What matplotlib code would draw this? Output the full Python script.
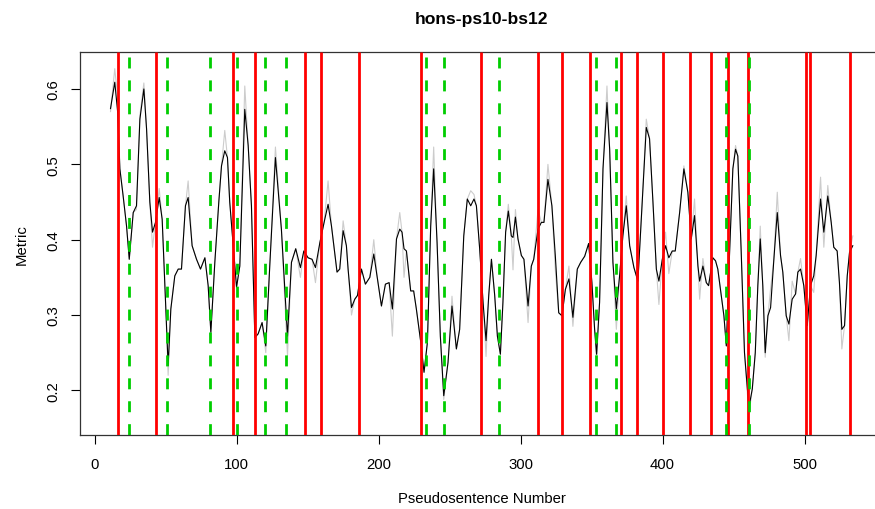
import matplotlib
matplotlib.use("Agg")
import matplotlib.pyplot as plt

# ---------------- data ----------------
title = "hons-ps10-bs12"
x_label = "Pseudosentence Number"
y_label = "Metric"

pseudo_x = [11, 14, 16, 17.6, 19.9, 22.3, 24.2, 27, 29.3, 31.7, 34.5, 36.4, 38.7, 40.6, 42.7, 45.3, 47.4,
            49.8, 51.6, 53.5, 56.3, 58.7, 61, 63.8, 65.7, 68.5, 71.6, 74.4, 77.5, 79.8, 81.7, 84.5, 87.3,
            89.2, 91.5, 93.4, 95, 99.8, 102.1, 105.6, 108, 110.3, 112.7, 115, 117.8, 120.4, 123.2, 127.2,
            131.4, 135.7, 138.5, 141.5, 144.8, 147.2, 150.2, 153, 155.4, 158.5, 161.5, 164.3, 166.7, 170.6,
            172.5, 174.9, 177.2, 178.4, 180.8, 183.1, 185, 187.8, 190.6, 193.7, 196.5, 198.8, 201.9, 204.7,
            207.3, 209.6, 212.5, 214.8, 216.4, 217.8, 219.5, 222.5, 224.6, 226.5, 229.6, 231.9, 234.3, 236.6,
            238.7, 241.1, 243.4, 245.8, 248.8, 251.6, 254.7, 257, 259.9, 262.4, 264.8, 267.1, 268.8, 271.1,
            273.5, 275.6, 277.5, 279.4, 281.7, 283.6, 285.7, 287.5, 289.4, 291.3, 293.4, 294.6, 296.3, 298.1,
            300.5, 302.3, 305.2, 307.5, 309.2, 312.2, 314.6, 316.4, 319.2, 322, 324.4, 326.8, 329.1, 331.5,
            334, 336.8, 339.9, 342.3, 345.1, 347.9, 350.2, 352.1, 353.5, 355.6, 358, 360.8, 362.7, 365,
            367.4, 369.7, 372, 374.4, 376.8, 379.8, 382.6, 385.4, 388.5, 390.8, 393.2, 395.6, 397.4, 399.8,
            402.1, 404.4, 406.8, 408.9, 412, 415, 417.8, 420.2, 422.5, 424.9, 426.1, 428.4, 430.8, 432.4,
            435.4, 437.3, 438.9, 441.3, 443.2, 444.9, 447.2, 449.5, 451.4, 453, 455.4, 457.7, 460.8, 463.2,
            465.3, 467.1, 468.8, 470.6, 472.3, 474.2, 476.1, 478.4, 480.8, 483.1, 484.7, 487.1, 489, 491.3,
            493.7, 495.3, 497.2, 499.5, 501.9, 504.2, 506.5, 508.2, 511.3, 513.6, 516.4, 518.8, 520.6, 523,
            524.6, 526.3, 528.2, 530.1, 531.7, 534]

metric_smooth = [0.574, 0.609, 0.570, 0.494, 0.458, 0.418, 0.374, 0.436, 0.445, 0.560, 0.600, 0.547, 0.450,
                 0.410, 0.423, 0.456, 0.427, 0.317, 0.233, 0.308, 0.352, 0.361, 0.361, 0.445, 0.456, 0.392,
                 0.374, 0.361, 0.376, 0.339, 0.277, 0.370, 0.450, 0.498, 0.518, 0.509, 0.450, 0.337, 0.365,
                 0.573, 0.525, 0.445, 0.270, 0.275, 0.290, 0.259, 0.365, 0.509, 0.414, 0.272, 0.370, 0.388,
                 0.363, 0.385, 0.376, 0.374, 0.363, 0.396, 0.423, 0.447, 0.418, 0.357, 0.361, 0.412, 0.392,
                 0.361, 0.310, 0.321, 0.326, 0.361, 0.341, 0.350, 0.381, 0.352, 0.312, 0.341, 0.343, 0.308,
                 0.401, 0.414, 0.410, 0.388, 0.385, 0.332, 0.332, 0.308, 0.264, 0.224, 0.264, 0.418, 0.494,
                 0.396, 0.272, 0.193, 0.237, 0.312, 0.255, 0.281, 0.405, 0.454, 0.445, 0.454, 0.445, 0.388,
                 0.317, 0.266, 0.326, 0.374, 0.326, 0.272, 0.248, 0.317, 0.410, 0.438, 0.405, 0.403, 0.430,
                 0.401, 0.379, 0.374, 0.312, 0.365, 0.374, 0.414, 0.423, 0.423, 0.480, 0.445, 0.379, 0.303,
                 0.299, 0.334, 0.348, 0.297, 0.361, 0.370, 0.378, 0.395, 0.343, 0.281, 0.248, 0.317, 0.494,
                 0.582, 0.520, 0.370, 0.308, 0.352, 0.405, 0.445, 0.392, 0.363, 0.345, 0.441, 0.549, 0.534,
                 0.450, 0.361, 0.345, 0.374, 0.392, 0.376, 0.385, 0.385, 0.436, 0.494, 0.463, 0.401, 0.432,
                 0.365, 0.345, 0.365, 0.343, 0.339, 0.376, 0.372, 0.361, 0.326, 0.299, 0.259, 0.383, 0.494,
                 0.520, 0.511, 0.383, 0.250, 0.177, 0.202, 0.250, 0.339, 0.401, 0.339, 0.250, 0.299, 0.310,
                 0.374, 0.436, 0.379, 0.357, 0.299, 0.288, 0.321, 0.328, 0.357, 0.361, 0.339, 0.286, 0.339,
                 0.352, 0.379, 0.454, 0.410, 0.458, 0.423, 0.390, 0.385, 0.343, 0.281, 0.286, 0.352, 0.383,
                 0.392]

metric_raw = [0.570, 0.627, 0.590, 0.494, 0.458, 0.418, 0.374, 0.436, 0.440, 0.565, 0.608, 0.547, 0.450,
              0.390, 0.423, 0.468, 0.427, 0.317, 0.220, 0.308, 0.352, 0.361, 0.361, 0.445, 0.478, 0.392,
              0.374, 0.361, 0.376, 0.339, 0.277, 0.370, 0.450, 0.498, 0.545, 0.509, 0.450, 0.337, 0.365,
              0.604, 0.525, 0.445, 0.270, 0.275, 0.290, 0.250, 0.365, 0.523, 0.414, 0.246, 0.370, 0.388,
              0.350, 0.385, 0.376, 0.374, 0.343, 0.396, 0.423, 0.478, 0.418, 0.357, 0.361, 0.425, 0.392,
              0.361, 0.300, 0.321, 0.326, 0.361, 0.341, 0.350, 0.400, 0.352, 0.312, 0.341, 0.343, 0.272,
              0.401, 0.436, 0.410, 0.350, 0.385, 0.332, 0.332, 0.308, 0.264, 0.224, 0.264, 0.418, 0.523,
              0.396, 0.272, 0.188, 0.237, 0.325, 0.255, 0.281, 0.405, 0.454, 0.465, 0.460, 0.445, 0.388,
              0.317, 0.245, 0.326, 0.374, 0.326, 0.272, 0.248, 0.317, 0.410, 0.447, 0.405, 0.360, 0.440,
              0.401, 0.379, 0.374, 0.290, 0.365, 0.374, 0.440, 0.423, 0.423, 0.500, 0.445, 0.360, 0.303,
              0.299, 0.334, 0.365, 0.285, 0.361, 0.370, 0.378, 0.395, 0.343, 0.281, 0.238, 0.317, 0.494,
              0.604, 0.520, 0.370, 0.281, 0.352, 0.405, 0.458, 0.392, 0.363, 0.345, 0.441, 0.560, 0.534,
              0.450, 0.361, 0.314, 0.374, 0.410, 0.355, 0.385, 0.385, 0.436, 0.498, 0.463, 0.401, 0.454,
              0.365, 0.321, 0.375, 0.343, 0.339, 0.376, 0.372, 0.361, 0.326, 0.299, 0.259, 0.383, 0.494,
              0.525, 0.511, 0.383, 0.250, 0.168, 0.202, 0.250, 0.339, 0.418, 0.339, 0.244, 0.299, 0.335,
              0.374, 0.463, 0.379, 0.357, 0.299, 0.266, 0.345, 0.328, 0.357, 0.375, 0.339, 0.280, 0.339,
              0.330, 0.379, 0.483, 0.390, 0.472, 0.423, 0.390, 0.385, 0.343, 0.255, 0.286, 0.352, 0.383,
              0.405]

red_boundaries = [16, 43, 97, 113, 148, 159, 186, 230, 272, 312, 329, 349, 371, 382, 400, 419, 434, 446,
                  460, 501, 504, 532]
green_boundaries = [24, 51, 81, 100, 120, 135, 233, 246, 285, 353, 367, 445, 461]

x_ticks = [0, 100, 200, 300, 400, 500]
y_ticks = [0.2, 0.3, 0.4, 0.5, 0.6]

# ---------------- figure ----------------
plt.rcParams['font.family'] = ['Liberation Sans', 'DejaVu Sans']
plt.rcParams['lines.scale_dashes'] = False

W, H = 875, 510
fig = plt.figure(figsize=(W / 100, H / 100), dpi=100)
left, right, top, bottom = 80, 884, 53.3, 436
ax = fig.add_axes([left / W, 1 - bottom / H, (right - left) / W, (bottom - top) / H])

xmin, xmax = -10.5, 556
ymin, ymax = 0.1408, 0.6487
ax.set_xlim(xmin, xmax)
ax.set_ylim(ymin, ymax)

ax.plot(pseudo_x, metric_raw, color='#cccccc', lw=0.8, zorder=2)
ax.plot(pseudo_x, metric_smooth, color='black', lw=0.8, zorder=3)

for xv in red_boundaries:
    ax.plot([xv, xv], [ymax, ymin], color='#ff0000', lw=2.0, solid_capstyle='butt', zorder=4)
for xv in green_boundaries:
    ax.plot([xv, xv], [ymax, ymin], color='#00cd00', lw=2.0,
            linestyle=(12.9, (7.9, 8.6)), dash_capstyle='butt', zorder=5)

ax.set_xticks(x_ticks)
ax.set_xticklabels([str(t) for t in x_ticks])
ax.set_yticks(y_ticks)
ax.set_yticklabels([f"{t:.1f}" for t in y_ticks], rotation=90, va='center')

ax.tick_params(axis='both', direction='out', length=6.5, width=0.8, labelsize=10.7, color='black')
ax.tick_params(axis='x', pad=9.5)
ax.tick_params(axis='y', pad=7.5)

for s in ax.spines.values():
    s.set_linewidth(0.9)
    s.set_color('#333333')

ax.set_xlabel(x_label, fontsize=10.7, labelpad=14.5)
ax.set_ylabel(y_label, fontsize=10.7, labelpad=13)
ax.set_title(title, fontsize=12.6, fontweight='bold', pad=21)

fig.savefig('out.png', dpi=100)
